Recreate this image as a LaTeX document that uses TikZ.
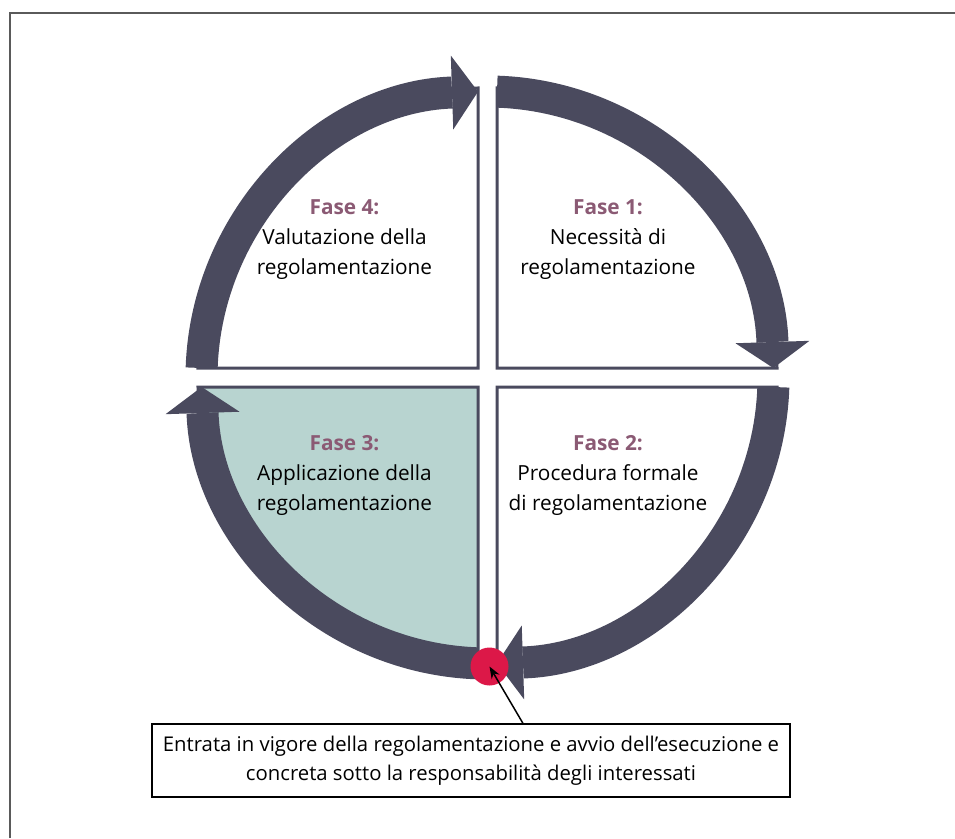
\documentclass[tikz,border=0pt]{standalone}
\usepackage{fontspec}
\setmainfont{Open Sans}
\usetikzlibrary{arrows.meta,positioning,calc}

\definecolor{ringslate}{RGB}{74,74,94}
\definecolor{fasemauve}{RGB}{139,90,116}
\definecolor{quadteal}{RGB}{184,212,208}
\definecolor{dotred}{RGB}{220,24,72}
\definecolor{framegray}{RGB}{90,90,90}

\begin{document}
\begin{tikzpicture}[x=1pt, y=1pt,
    ring/.style={line width=32pt, ringslate,
        -{Triangle[width=74pt, length=26pt, line width=0pt]}},
    quadrant/.style={draw=ringslate, line width=3pt},
    fasetext/.style={align=center, font=\fontsize{20.8}{30}\selectfont},
    infobox/.style={draw, line width=1.2pt, minimum width=638pt,
        minimum height=73pt, align=center, font=\fontsize{20.3}{29.5}\selectfont},
    dot/.style={circle, fill=dotred, minimum size=38pt, inner sep=0pt},
    pointer/.style={line width=1.5pt, -{Stealth[length=12pt, width=9pt]}}
    ]
    \useasboundingbox (-487.5,-460.5) rectangle (467.5,377.5);

    % frame, cut by the page on the right and bottom
    \draw[framegray, line width=2pt] (-477.5,-460.5) -- (-477.5,364.5) -- (467.5,364.5);

    % four quadrants
    \foreach \a/\c in {0/white, 90/white, 180/quadteal, 270/white}
        \draw[quadrant, fill=\c, rotate=\a] (9.5,9.5) -- ++(0,280)
            arc[start angle=90, end angle=0, radius=280] -- cycle;

    % ring of arrows, clockwise
    \foreach \s in {0,90,180,270}
        \draw[ring] (88.1-\s:286) arc[start angle=88.1-\s, end angle=1.9-\s, radius=286];

    % phase texts
    \node[fasetext] (fase1) at (120.5,137.5)
        {\textcolor{fasemauve}{\bfseries Fase 1:}\\Necessità di\\regolamentazione};
    \node[fasetext] (fase2) at (120.5,-98)
        {\textcolor{fasemauve}{\bfseries Fase 2:}\\Procedura formale\\di regolamentazione};
    \node[fasetext] (fase3) at (-143,-98)
        {\textcolor{fasemauve}{\bfseries Fase 3:}\\Applicazione della\\regolamentazione};
    \node[fasetext] (fase4) at (-143,137.5)
        {\textcolor{fasemauve}{\bfseries Fase 4:}\\Valutazione della\\regolamentazione};

    % entry into force
    \node[dot] (vigoredot) at (2,-289) {};
    \node[infobox] (vigore) at (-16.5,-383)
        {Entrata in vigore della regolamentazione e avvio dell’esecuzione e\\
         concreta sotto la responsabilità degli interessati};
    \draw[pointer] ([xshift=52pt]vigore.north) -- (vigoredot.center);
\end{tikzpicture}
\end{document}
